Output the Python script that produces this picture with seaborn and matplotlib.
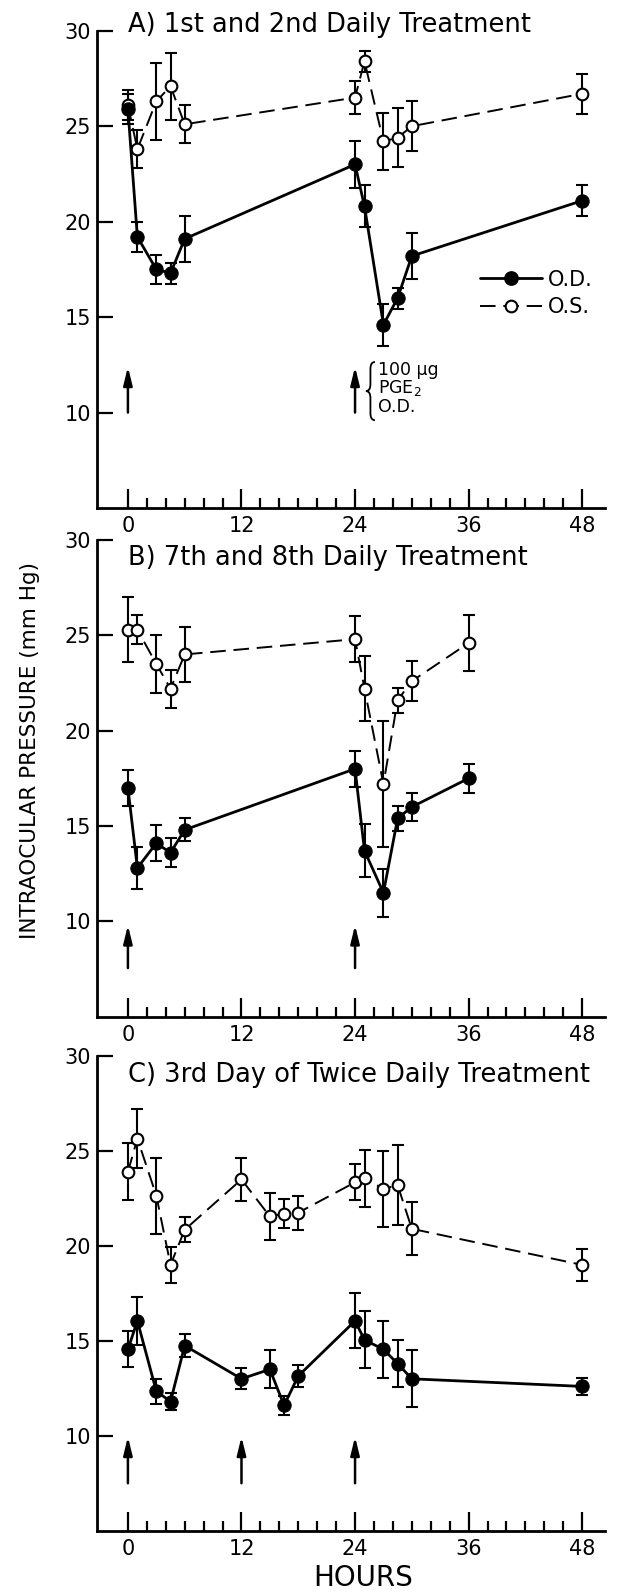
import numpy as np
import matplotlib
matplotlib.use('Agg')
import matplotlib.pyplot as plt
from matplotlib.lines import Line2D
from matplotlib.path import Path
from matplotlib.patches import PathPatch
from matplotlib.ticker import FixedLocator
import seaborn as sns

# Panel A - 1st and 2nd daily treatment
hours_a = [0, 1, 3, 4.5, 6, 24, 25, 27, 28.5, 30, 48]
od_a = [25.9, 19.2, 17.5, 17.3, 19.1, 23.0, 20.8, 14.6, 16.0, 18.2, 21.1]
od_err_a = [0.8, 0.8, 0.75, 0.55, 1.2, 1.25, 1.1, 1.1, 0.55, 1.2, 0.8]
os_a = [26.1, 23.8, 26.3, 27.1, 25.1, 26.5, 28.4, 24.2, 24.4, 25.0, 26.7]
os_err_a = [0.8, 1.0, 2.0, 1.75, 1.0, 0.85, 0.55, 1.5, 1.55, 1.3, 1.05]
doses_a = [0, 24]

# Panel B - 7th and 8th daily treatment
hours_b = [0, 1, 3, 4.5, 6, 24, 25, 27, 28.5, 30, 36]
od_b = [17.0, 12.8, 14.1, 13.6, 14.8, 18.0, 13.7, 11.5, 15.4, 16.0, 17.5]
od_err_b = [0.95, 1.1, 0.95, 0.75, 0.6, 0.95, 1.4, 1.25, 0.65, 0.75, 0.75]
os_b = [25.3, 25.3, 23.5, 22.2, 24.0, 24.8, 22.2, 17.2, 21.6, 22.6, 24.6]
os_err_b = [1.7, 0.75, 1.5, 1.0, 1.45, 1.2, 1.7, 3.3, 0.65, 1.05, 1.45]
doses_b = [0, 24]

# Panel C - 3rd day of twice daily treatment
hours_c = [0, 1, 3, 4.5, 6, 12, 15, 16.5, 18, 24, 25, 27, 28.5, 30, 48]
od_c = [14.55, 16.05, 12.35, 11.8, 14.75, 13.0, 13.5, 11.6, 13.15, 16.05, 15.05, 14.55, 13.8, 13.0, 12.6]
od_err_c = [0.95, 1.25, 0.65, 0.45, 0.6, 0.55, 1.0, 0.5, 0.6, 1.45, 1.5, 1.5, 1.25, 1.5, 0.45]
os_c = [23.9, 25.65, 22.65, 19.0, 20.85, 23.5, 21.55, 21.7, 21.75, 23.35, 23.55, 23.0, 23.2, 20.9, 19.0]
os_err_c = [1.5, 1.55, 2.0, 0.95, 0.65, 1.15, 1.25, 0.75, 0.9, 0.95, 1.5, 2.0, 2.1, 1.4, 0.85]
doses_c = [0, 12, 24]

titles = ['A) 1st and 2nd Daily Treatment',
          'B) 7th and 8th Daily Treatment',
          'C) 3rd Day of Twice Daily Treatment']
x_ticks = [0, 12, 24, 36, 48]
y_ticks = [10, 15, 20, 25, 30]
dose_note = ['100 µg', 'PGE$_2$', 'O.D.']

DASHES = (8, 4)


# Draw one eye's series: line + markers through seaborn, error bars via errorbar
def draw_series(ax, hours, vals, errs, filled):
    ax.errorbar(hours, vals, yerr=errs, fmt='none', ecolor='k',
                elinewidth=1.5, capsize=4.2, capthick=1.5, zorder=2)
    if filled:
        sns.lineplot(x=hours, y=vals, ax=ax, color='k', lw=2.0, marker='o',
                     markersize=9.6, markerfacecolor='k', markeredgecolor='k',
                     estimator=None, sort=False, legend=False, zorder=3)
    else:
        sns.lineplot(x=hours, y=vals, ax=ax, color='k', lw=1.4, marker='o',
                     markersize=8.4, markerfacecolor='white', markeredgecolor='k',
                     markeredgewidth=1.5, estimator=None, sort=False,
                     legend=False, zorder=3)
        ax.lines[-1].set_dashes(DASHES)


def style_axes(ax):
    ax.set_xlim(-3.3, 50.4)
    ax.set_ylim(5, 30)
    ax.xaxis.set_major_locator(FixedLocator(x_ticks))
    ax.xaxis.set_minor_locator(FixedLocator([h for h in range(2, 48, 2) if h % 12]))
    ax.yaxis.set_major_locator(FixedLocator(y_ticks))
    ax.tick_params(axis='x', which='major', direction='in', length=14,
                   width=1.6, labelsize=15, pad=6, color='k', labelcolor='k')
    ax.tick_params(axis='x', which='minor', direction='in', length=7, width=1.6,
                   color='k')
    ax.tick_params(axis='y', which='major', direction='in', length=11.5,
                   width=1.6, labelsize=15, pad=4, color='k', labelcolor='k')
    ax.set_xlabel('')
    ax.set_ylabel('')
    for side in ['top', 'right']:
        ax.spines[side].set_visible(False)
    for side in ['left', 'bottom']:
        ax.spines[side].set_linewidth(2.0)
        ax.spines[side].set_color('k')


def draw_doses(ax, doses, tail, head):
    for d in doses:
        ax.annotate('', xy=(d, head), xytext=(d, tail),
                    arrowprops=dict(arrowstyle='-|>,head_length=0.9,head_width=0.22',
                                    color='k', lw=1.8, shrinkA=0, shrinkB=0,
                                    mutation_scale=12))


# Thin curly brace "{" drawn as a path next to the dose note
def draw_brace(ax, xl, xr, yb, yt):
    xm = (xl + xr) / 2
    ym = (yb + yt) / 2
    k = (yt - yb) * 0.12
    verts = [(xr, yt), (xm, yt), (xm, yt - k), (xm, ym + k), (xm, ym), (xl, ym),
             (xm, ym), (xm, ym - k), (xm, yb + k), (xm, yb), (xr, yb)]
    codes = [Path.MOVETO, Path.CURVE3, Path.CURVE3, Path.LINETO, Path.CURVE3,
             Path.CURVE3, Path.CURVE3, Path.CURVE3, Path.LINETO, Path.CURVE3,
             Path.CURVE3]
    ax.add_patch(PathPatch(Path(verts, codes), fill=False, lw=1.3, color='k'))


def main():
    sns.set_style('ticks')
    plt.rcParams['font.family'] = ['DejaVu Sans']
    plt.rcParams['text.color'] = 'k'

    fig = plt.figure(figsize=(6.19, 15.94), dpi=100)
    left, width = 0.1562, 0.821
    rects = [(left, 0.6813, width, 0.2994),
             (left, 0.3622, width, 0.2990),
             (left, 0.0397, width, 0.2978)]
    panels = [
        (hours_a, od_a, od_err_a, os_a, os_err_a, doses_a, 29.95, (10.0, 12.4)),
        (hours_b, od_b, od_err_b, os_b, os_err_b, doses_b, 28.7, (7.55, 9.8)),
        (hours_c, od_c, od_err_c, os_c, os_err_c, doses_c, 28.65, (7.5, 9.95)),
    ]

    axes = []
    for rect, title, panel in zip(rects, titles, panels):
        hours, od, od_err, os_, os_err, doses, title_y, arrow_span = panel
        ax = fig.add_axes(rect)
        draw_series(ax, hours, os_, os_err, filled=False)
        draw_series(ax, hours, od, od_err, filled=True)
        style_axes(ax)
        draw_doses(ax, doses, *arrow_span)
        ax.text(0, title_y, title, fontsize=18.5, ha='left', va='baseline',
                color='k', clip_on=False)
        axes.append(ax)

    # Legend and dose note in panel A
    ax = axes[0]
    handles = [Line2D([], [], color='k', lw=2.0, marker='o', ms=9.6,
                      mfc='k', mec='k', label='O.D.'),
               Line2D([], [], color='k', lw=1.4, marker='o', ms=8.4, mfc='white',
                      mec='k', mew=1.5, dashes=DASHES, label='O.S.')]
    leg = ax.legend(handles=handles, frameon=False, loc='center left',
                    bbox_to_anchor=(0.754, 0.45), handlelength=3.0,
                    handletextpad=0.25, labelspacing=0.35, borderpad=0,
                    borderaxespad=0, fontsize=15)
    for t in leg.get_texts():
        t.set_color('k')
    draw_brace(ax, 25.15, 26.1, 9.6, 12.65)
    for line, yv in zip(dose_note, [12.23, 11.28, 10.29]):
        ax.text(26.4, yv, line, fontsize=12.5, ha='left', va='center', color='k')

    fig.text(30 / 619, 1 - 750 / 1594, 'INTRAOCULAR PRESSURE (mm Hg)',
             rotation=90, fontsize=15.5, ha='center', va='center', color='k')
    fig.text(363 / 619, 1 - 1578 / 1594, 'HOURS', fontsize=20,
             ha='center', va='center', color='k')

    fig.savefig('out.png', dpi=100)


if __name__ == '__main__':
    main()
